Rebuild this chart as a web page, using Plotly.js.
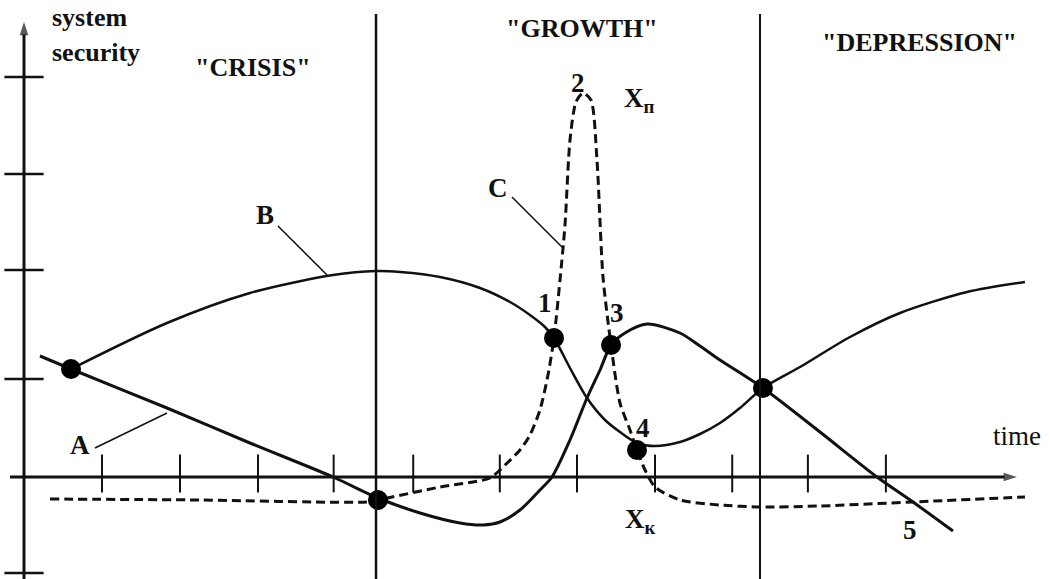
<!DOCTYPE html>
<html>
<head>
<meta charset="utf-8">
<script src="https://cdn.plot.ly/plotly-3.0.1.min.js"></script>
<style>html,body{margin:0;padding:0;background:#fff;}#chart{width:1050px;height:579px;}</style>
</head>
<body>
<div id="chart"></div>
<script>
// ---- data (time units, security units) ----
const curveA_t = [0.205, 0.603, 1.833, 2.897, 3.962, 4.538, 5.077, 5.590, 5.885, 6.103, 6.359, 6.615, 6.769, 7.000, 7.218, 7.385, 7.526, 7.705, 7.987, 8.410, 8.667, 8.923, 9.474, 10.205, 10.936, 11.397, 11.910];
const curveA_s = [1.21, 1.08, 0.69, 0.34, 0.00, -0.21, -0.36, -0.46, -0.48, -0.45, -0.33, -0.13, 0.00, 0.37, 0.79, 1.07, 1.32, 1.44, 1.53, 1.44, 1.31, 1.17, 0.89, 0.45, 0.00, -0.25, -0.54];

const curveB_t = [0.603, 1.833, 2.897, 3.962, 4.513, 4.821, 5.333, 5.846, 6.231, 6.487, 6.679, 6.795, 7.000, 7.218, 7.449, 7.641, 7.859, 8.090, 8.410, 8.667, 8.923, 9.179, 9.474, 9.949, 10.590, 11.231, 12.090, 12.833];
const curveB_s = [1.08, 1.54, 1.84, 2.02, 2.06, 2.05, 2.00, 1.89, 1.75, 1.62, 1.50, 1.39, 1.09, 0.79, 0.57, 0.45, 0.34, 0.31, 0.35, 0.43, 0.54, 0.69, 0.89, 1.10, 1.40, 1.64, 1.85, 1.95];

const curveC_t = [0.333, 2.256, 4.397, 4.538, 5.333, 5.974, 6.167, 6.359, 6.487, 6.615, 6.718, 6.795, 6.872, 6.936, 7.000, 7.077, 7.167, 7.269, 7.346, 7.423, 7.526, 7.641, 7.769, 7.859, 7.962, 8.090, 8.410, 8.923, 9.436, 10.205, 11.397, 12.833];
const curveC_s = [-0.22, -0.23, -0.25, -0.23, -0.10, -0.01, 0.12, 0.27, 0.42, 0.67, 1.02, 1.39, 1.97, 2.52, 3.37, 3.75, 3.84, 3.77, 3.17, 2.00, 1.32, 0.74, 0.47, 0.27, 0.07, -0.10, -0.23, -0.28, -0.30, -0.29, -0.25, -0.20];

const points_t = [0.603, 4.538, 6.795, 7.526, 7.859, 9.474];
const points_s = [1.08, -0.23, 1.39, 1.32, 0.27, 0.89];

const phaseBounds = [4.513, 9.436];
const phaseNames = ['"CRISIS"', '"GROWTH"', '"DEPRESSION"'];

const xTickVals = [1.0, 2.0, 3.0, 3.97, 4.99, 6.10, 7.09, 8.09, 9.08, 10.05, 11.05];
const yTickVals = [4.00, 3.03, 2.07, 0.98, -0.96];

const xAxisTitle = 'time';
const yAxisTitle = ['system', 'security'];
const curveNames = ['A', 'B', 'C'];
const pointNames = ['1', '2', '3', '4', '5'];

// ---- layout constants ----
const X0 = -0.3077, X1 = 13.154, Y0 = -1.02, Y1 = 4.77;
const INK = '#111';
const FONT = 'Liberation Serif';

const arrowMarker = {symbol: ['circle', 'arrow'], size: [0, 14], angleref: 'previous', color: INK, line: {width: 0}};

const traces = [
  // axes with arrow heads
  {x: [-0.18, 12.73], y: [0, 0], mode: 'lines+markers', line: {color: INK, width: 3}, marker: arrowMarker, hoverinfo: 'skip'},
  {x: [0, 0], y: [Y0, 4.55], mode: 'lines+markers', line: {color: INK, width: 3}, marker: arrowMarker, hoverinfo: 'skip'},
  // curves
  {x: curveC_t, y: curveC_s, mode: 'lines', line: {color: INK, width: 3, dash: '9px,5px', shape: 'spline', smoothing: 0.7}, hoverinfo: 'skip'},
  {x: curveB_t, y: curveB_s, mode: 'lines', line: {color: INK, width: 2.5, shape: 'spline', smoothing: 0.8}, hoverinfo: 'skip'},
  {x: curveA_t, y: curveA_s, mode: 'lines', line: {color: INK, width: 3, shape: 'spline', smoothing: 0.8}, hoverinfo: 'skip'},
  // leader lines for curve labels
  {x: [0.910, 1.833], y: [0.29, 0.64], mode: 'lines', line: {color: INK, width: 1.5}, hoverinfo: 'skip'},
  {x: [3.256, 3.885], y: [2.51, 2.02], mode: 'lines', line: {color: INK, width: 1.5}, hoverinfo: 'skip'},
  {x: [6.256, 6.910], y: [2.80, 2.29], mode: 'lines', line: {color: INK, width: 1.5}, hoverinfo: 'skip'},
  // tick marks
  {x: xTickVals, y: xTickVals.map(() => 0.035), mode: 'markers', marker: {symbol: 'line-ns', size: 27, color: INK, line: {color: INK, width: 2}}, hoverinfo: 'skip'},
  {x: yTickVals.map(() => 0), y: yTickVals, mode: 'markers', marker: {symbol: 'line-ew', size: 28, color: INK, line: {color: INK, width: 2.5}}, hoverinfo: 'skip'},
  // intersection points
  {x: points_t, y: points_s, mode: 'markers', marker: {symbol: 'circle', size: 20, color: '#000'}, hoverinfo: 'skip'}
];

const shapes = phaseBounds.map((b, i) => ({
  type: 'line', xref: 'x', yref: 'y', x0: b, x1: b, y0: Y0, y1: 4.63,
  line: {color: INK, width: i === 0 ? 2.5 : 2}
}));

function txt(text, x, y, size, xanchor) {
  return {text: text, x: x, y: y, xref: 'x', yref: 'y', showarrow: false,
    font: {family: FONT, size: size, color: INK}, xanchor: xanchor || 'center', yanchor: 'middle'};
}

const annotations = [
  // axis titles
  txt('<b>' + yAxisTitle[0] + '</b>', 0.33, 4.60, 26, 'left'),
  txt('<b>' + yAxisTitle[1] + '</b>', 0.33, 4.25, 26, 'left'),
  txt(xAxisTitle, 12.731, 0.41, 27),
  // phase names
  txt('<b>' + phaseNames[0] + '</b>', 2.936, 4.10, 26),
  txt('<b>' + phaseNames[1] + '</b>', 7.154, 4.49, 26),
  txt('<b>' + phaseNames[2] + '</b>', 11.487, 4.35, 26),
  // curve labels
  txt('<b>' + curveNames[0] + '</b>', 0.718, 0.32, 27),
  txt('<b>' + curveNames[1] + '</b>', 3.090, 2.62, 27),
  txt('<b>' + curveNames[2] + '</b>', 6.077, 2.89, 27),
  // point labels
  txt('<b>' + pointNames[0] + '</b>', 6.679, 1.74, 27),
  txt('<b>' + pointNames[1] + '</b>', 7.103, 3.94, 27),
  txt('<b>' + pointNames[2] + '</b>', 7.603, 1.64, 27),
  txt('<b>' + pointNames[3] + '</b>', 7.936, 0.49, 27),
  txt('<b>' + pointNames[4] + '</b>', 11.359, -0.53, 27),
  // X labels
  txt('<b>X<sub>п</sub></b>', 7.897, 3.77, 27),
  txt('<b>X<sub>к</sub></b>', 7.910, -0.44, 27)
];

const layout = {
  width: 1050, height: 579,
  margin: {l: 0, r: 0, t: 0, b: 0, pad: 0},
  paper_bgcolor: '#fff', plot_bgcolor: '#fff',
  showlegend: false,
  font: {family: FONT, color: INK},
  xaxis: {range: [X0, X1], visible: false, fixedrange: true},
  yaxis: {range: [Y0, Y1], visible: false, fixedrange: true},
  shapes: shapes,
  annotations: annotations
};

Plotly.newPlot('chart', traces, layout, {displayModeBar: false});
</script>
</body>
</html>
